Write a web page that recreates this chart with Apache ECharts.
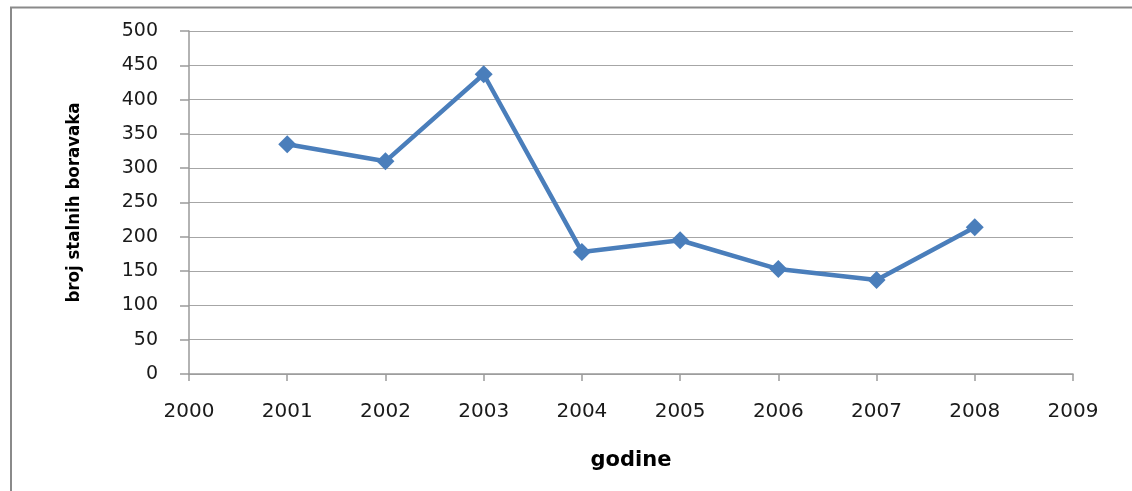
<!DOCTYPE html>
<html><head><meta charset="utf-8">
<script src="https://cdn.jsdelivr.net/npm/echarts@6/dist/echarts.min.js"></script>
<style>html,body{margin:0;padding:0;background:#fff}#c{width:1132px;height:491px}</style>
</head><body><div id="c"></div>
<script>
const years = [2001, 2002, 2003, 2004, 2005, 2006, 2007, 2008];
const values = [335, 310, 437, 178, 195, 153, 137, 214];
const xTicks = [2000, 2001, 2002, 2003, 2004, 2005, 2006, 2007, 2008, 2009];
const yTicks = [0, 50, 100, 150, 200, 250, 300, 350, 400, 450, 500];
const xName = 'godine';
const yName = 'broj stalnih boravaka';

const chart = echarts.init(document.getElementById('c'), null, {renderer: 'canvas'});
const axisCol = '#9a9a9a';
chart.setOption({
  animation: false,
  backgroundColor: '#fff',
  graphic: [{
    type: 'polyline', silent: true,
    shape: {points: [[11, 491], [11, 7.5], [1132, 7.5]]},
    style: {stroke: '#8a8a8a', lineWidth: 2, fill: null}
  }],
  grid: {left: 189, right: 59, top: 31, bottom: 117},
  xAxis: {
    type: 'value', min: xTicks[0], max: xTicks[xTicks.length - 1], interval: 1,
    name: xName, nameLocation: 'middle', nameGap: 76,
    nameTextStyle: {fontFamily: 'DejaVu Sans', fontWeight: 'bold', fontSize: 21, color: '#000'},
    axisLine: {lineStyle: {color: axisCol, width: 1.5}},
    axisTick: {show: true, length: 7, lineStyle: {color: axisCol, width: 1.5}},
    axisLabel: {margin: 28, fontFamily: 'DejaVu Sans', fontSize: 20, color: '#1a1a1a', formatter: v => String(v)},
    splitLine: {show: false}
  },
  yAxis: {
    type: 'value', min: yTicks[0], max: yTicks[yTicks.length - 1], interval: 50,
    name: yName, nameLocation: 'middle', nameGap: 105, nameRotate: 90,
    nameTextStyle: {fontFamily: '"Liberation Sans Narrow", "DejaVu Sans Condensed", sans-serif', fontWeight: 'bold', fontSize: 18.5, color: '#000'},
    axisLine: {show: true, lineStyle: {color: axisCol, width: 1.5}},
    axisTick: {show: true, length: 9, lineStyle: {color: axisCol, width: 1.5}},
    axisLabel: {margin: 31, fontFamily: 'DejaVu Sans', fontSize: 19, color: '#1a1a1a'},
    splitLine: {show: true, lineStyle: {color: '#a6a6a6', width: 1.2}}
  },
  series: [{
    type: 'line',
    data: years.map((y, i) => [y, values[i]]),
    symbol: 'diamond', symbolSize: 18,
    lineStyle: {color: '#4a7ebb', width: 4.5},
    itemStyle: {color: '#4a7ebb'}
  }]
});
</script></body></html>
